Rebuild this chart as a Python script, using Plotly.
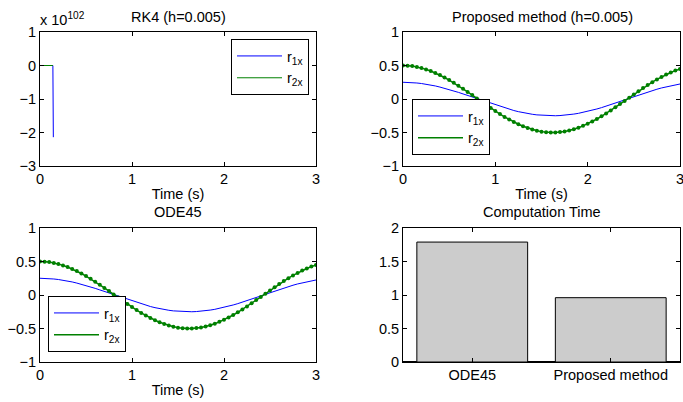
import plotly.graph_objects as go

# time grid of the ODE45 / proposed solutions (s)
t = [round(0.05 * k, 2) for k in range(61)]

# r1x and r2x trajectories (ODE45 and the proposed method agree)
r1x = [0.250, 0.249, 0.245, 0.239, 0.231, 0.221, 0.209, 0.195, 0.178, 0.161,
       0.141, 0.121, 0.099, 0.076, 0.053, 0.029, 0.005, -0.020, -0.044, -0.067,
       -0.090, -0.112, -0.133, -0.153, -0.172, -0.189, -0.204, -0.217, -0.228, -0.237,
       -0.243, -0.248, -0.250, -0.250, -0.247, -0.242, -0.235, -0.225, -0.214, -0.200,
       -0.185, -0.168, -0.149, -0.129, -0.108, -0.085, -0.062, -0.038, -0.014, 0.010,
       0.034, 0.058, 0.081, 0.104, 0.125, 0.146, 0.165, 0.182, 0.198, 0.212, 0.224]
r2x = [0.500, 0.498, 0.491, 0.479, 0.463, 0.442, 0.418, 0.389, 0.357, 0.321,
       0.283, 0.241, 0.198, 0.153, 0.106, 0.058, 0.009, -0.039, -0.087, -0.134,
       -0.180, -0.225, -0.267, -0.307, -0.343, -0.377, -0.407, -0.433, -0.455, -0.473,
       -0.487, -0.496, -0.500, -0.499, -0.494, -0.484, -0.470, -0.451, -0.428, -0.401,
       -0.370, -0.335, -0.298, -0.258, -0.215, -0.171, -0.124, -0.076, -0.028, 0.020,
       0.069, 0.116, 0.163, 0.208, 0.251, 0.292, 0.330, 0.364, 0.396, 0.424, 0.447]

# RK4 run that diverges (values in units of 1e102)
rk4_t = [0.0, 0.14, 0.145]
rk4_r1x = [0.0, 0.0, -2.14]
rk4_r2x = [0.0, 0.0, None]

# computation time comparison (s)
methods = ["ODE45", "Proposed method"]
comp_time = [1.79, 0.96]

BLUE = "#0000ff"
GREEN = "#008000"
FONT = "Liberation Sans"
FS = 14.5
W, H = 683, 402


def px_x(p):
    return p / W


def px_y(p):
    return 1 - p / H


fig = go.Figure()

# --- RK4 panel
fig.add_trace(go.Scatter(x=rk4_t, y=rk4_r1x, mode="lines", name="r<sub>1x</sub>",
                         line=dict(color=BLUE, width=1), xaxis="x", yaxis="y",
                         legend="legend", legendgroup="a"))
fig.add_trace(go.Scatter(x=rk4_t, y=rk4_r2x, mode="lines", name="r<sub>2x</sub>",
                         line=dict(color=GREEN, width=1), xaxis="x", yaxis="y",
                         legend="legend", legendgroup="b"))

# --- proposed method and ODE45 panels
for xa, ya, lg in (("x2", "y2", "legend2"), ("x3", "y3", "legend3")):
    fig.add_trace(go.Scatter(x=t, y=r1x, mode="lines", name="r<sub>1x</sub>",
                             line=dict(color=BLUE, width=1), xaxis=xa, yaxis=ya,
                             legend=lg, legendgroup="a"))
    fig.add_trace(go.Scatter(x=t, y=r2x, mode="lines", name="r<sub>2x</sub>",
                             line=dict(color=GREEN, width=1.5), xaxis=xa, yaxis=ya,
                             legend=lg, legendgroup="b"))
    fig.add_trace(go.Scatter(x=t, y=r2x, mode="markers", showlegend=False,
                             marker=dict(color=GREEN, size=4, symbol="circle"),
                             xaxis=xa, yaxis=ya))

# --- computation time bars
fig.add_trace(go.Bar(x=methods, y=comp_time, showlegend=False, width=0.8,
                     marker=dict(color="#cccccc", line=dict(color="black", width=1)),
                     xaxis="x4", yaxis="y4"))

axis_common = dict(showline=True, linecolor="black", linewidth=1, mirror="ticks",
                   ticks="inside", ticklen=4, tickcolor="black", showgrid=False,
                   zeroline=False, automargin=False, ticklabeloverflow="allow",
                   tickfont=dict(size=FS, color="black", family=FONT))

dom_left = [px_x(40), px_x(316)]
dom_right = [px_x(403), px_x(680)]
dom_top = [px_y(166), px_y(32)]
dom_bot = [px_y(362), px_y(228)]

xtitle = dict(text="Time (s)", font=dict(size=FS, color="black", family=FONT), standoff=2)

fig.update_layout(
    width=W, height=H, margin=dict(l=0, r=0, t=0, b=0),
    plot_bgcolor="white", paper_bgcolor="white",
    font=dict(family=FONT, size=FS, color="black"),
    bargap=0.2,
    xaxis=dict(domain=dom_left, anchor="y", range=[0, 3], tickvals=[0, 1, 2, 3],
               title=xtitle, **axis_common),
    yaxis=dict(domain=dom_top, anchor="x", range=[-3, 1], tickvals=[-3, -2, -1, 0, 1],
               ticktext=["\u22123", "\u22122", "\u22121", "0", "1"], **axis_common),
    xaxis2=dict(domain=dom_right, anchor="y2", range=[0, 3], tickvals=[0, 1, 2, 3],
                title=xtitle, **axis_common),
    yaxis2=dict(domain=dom_top, anchor="x2", range=[-1, 1], tickvals=[-1, -0.5, 0, 0.5, 1],
                ticktext=["\u22121", "\u22120.5", "0", "0.5", "1"], **axis_common),
    xaxis3=dict(domain=dom_left, anchor="y3", range=[0, 3], tickvals=[0, 1, 2, 3],
                title=xtitle, **axis_common),
    yaxis3=dict(domain=dom_bot, anchor="x3", range=[-1, 1], tickvals=[-1, -0.5, 0, 0.5, 1],
                ticktext=["\u22121", "\u22120.5", "0", "0.5", "1"], **axis_common),
    xaxis4=dict(domain=dom_right, anchor="y4", range=[-0.5, 1.5], type="category",
                **axis_common),
    yaxis4=dict(domain=dom_bot, anchor="x4", range=[0, 2], tickvals=[0, 0.5, 1, 1.5, 2],
                **{**axis_common, "zeroline": True, "zerolinecolor": "black",
                   "zerolinewidth": 2}),
)

legend_common = dict(bgcolor="white", bordercolor="black", borderwidth=1,
                     font=dict(size=FS, color="black", family=FONT),
                     xanchor="left", yanchor="top", tracegroupgap=0, itemwidth=45)
fig.update_layout(
    legend=dict(x=px_x(231), y=px_y(39), **legend_common),
    legend2=dict(x=px_x(412), y=px_y(99), **legend_common),
    legend3=dict(x=px_x(48), y=px_y(296), **legend_common),
)

titles = [
    ("RK4 (h=0.005)", 178, 17),
    ("Proposed method (h=0.005)", 542, 17),
    ("ODE45", 178, 212),
    ("Computation Time", 542, 212),
]
for text, cx, cy in titles:
    fig.add_annotation(text=text, x=px_x(cx), y=px_y(cy), xref="paper", yref="paper",
                       showarrow=False, xanchor="center", yanchor="middle",
                       font=dict(size=FS, color="black", family=FONT))

# exponent label of the RK4 y axis
fig.add_annotation(text="x 10<sup>102</sup>", x=px_x(38), y=px_y(19), xref="paper",
                   yref="paper", showarrow=False, xanchor="left", yanchor="middle",
                   font=dict(size=FS, color="black", family=FONT))

fig.write_html("out.html")
